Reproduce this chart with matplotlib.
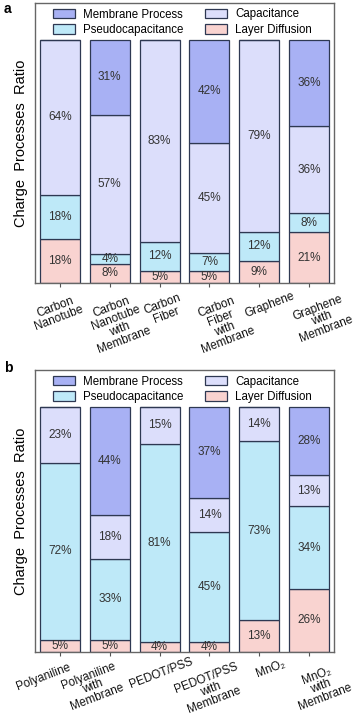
import matplotlib
matplotlib.use("Agg")
import matplotlib.pyplot as plt
import matplotlib.transforms as mtransforms
from matplotlib.patches import Patch
import numpy as np

plt.rcParams['font.family'] = ['Liberation Sans', 'DejaVu Sans']

series_names = ["Membrane Process", "Pseudocapacitance", "Capacitance", "Layer Diffusion"]
colors = {"Membrane Process": "#A8B1F4", "Capacitance": "#DCDEFB",
          "Pseudocapacitance": "#BEE9F8", "Layer Diffusion": "#F9D3D0"}

cats_a = ["Carbon\nNanotube", "Carbon\nNanotube\nwith\nMembrane", "Carbon\nFiber",
          "Carbon\nFiber\nwith\nMembrane", "Graphene", "Graphene\nwith\nMembrane"]
layer_a = [18, 8, 5, 5, 9, 21]
pseudo_a = [18, 4, 12, 7, 12, 8]
cap_a = [64, 57, 83, 45, 79, 36]
mem_a = [0, 31, 0, 42, 0, 36]

cats_b = ["Polyaniline", "Polyaniline\nwith\nMembrane", "PEDOT/PSS",
          "PEDOT/PSS\nwith\nMembrane", "MnO\u2082", "MnO\u2082\nwith\nMembrane"]
layer_b = [5, 5, 4, 4, 13, 26]
pseudo_b = [72, 33, 81, 45, 73, 34]
cap_b = [23, 18, 15, 14, 14, 13]
mem_b = [0, 44, 0, 37, 0, 28]

W, H = 358, 719
fig = plt.figure(figsize=(W / 100, H / 100), dpi=100)

edge = "#2E3852"


def panel(rect, cats, layer, pseudo, cap, mem, letter, letter_y, dxs, dys):
    ax = fig.add_axes(rect)
    x = np.arange(len(cats))
    stack = [("Layer Diffusion", layer), ("Pseudocapacitance", pseudo),
             ("Capacitance", cap), ("Membrane Process", mem)]
    total = np.sum([np.array(v, dtype=float) for _, v in stack], axis=0)
    bottom = np.zeros(len(cats))
    for name, vals in stack:
        vals = np.array(vals, dtype=float)
        share = vals / total * 100.0
        ax.bar(x, share, 0.8, bottom=bottom, color=colors[name], edgecolor=edge,
               linewidth=0.9)
        for xi, b, v, lab in zip(x, bottom, share, vals):
            if lab > 0:
                ax.text(xi, b + v / 2, f"{int(lab)}%", ha="center", va="center",
                        fontsize=8.5, color="#333333")
        bottom = bottom + share
    ax.set_xlim(-0.5, len(cats) - 0.5)
    ax.set_ylim(0, 115)
    ax.set_yticks([])
    ax.set_xticks(x)
    ax.set_xticklabels([])
    ax.tick_params(axis="x", direction="out", length=3, width=0.8, color="#555555")
    for s in ax.spines.values():
        s.set_color("#666666")
        s.set_linewidth(1.0)
    for xi, lab, dx, dy in zip(x, cats, dxs, dys):
        tr = ax.get_xaxis_transform() + mtransforms.ScaledTranslation(dx / 100, -dy / 100, fig.dpi_scale_trans)
        ax.text(xi, 0, lab, transform=tr, rotation=21,
                ha="center", va="top", multialignment="center", fontsize=8.5,
                color="#111111", linespacing=0.95)
    ax.set_ylabel("Charge  Processes  Ratio", fontsize=10.5, labelpad=5)
    handles = [Patch(facecolor=colors[n], edgecolor=edge, linewidth=0.9) for n in series_names]
    ax.legend(handles, series_names, loc="upper left", ncol=2, frameon=False,
              fontsize=8.3, handlelength=1.9, handleheight=0.9, handletextpad=0.7,
              columnspacing=1.9, labelspacing=0.3, borderaxespad=0, borderpad=0,
              bbox_to_anchor=((53 - 35) / 299, 1 - 5.5 / 280))
    fig.text(4 / W, 1 - letter_y / H, letter, fontsize=10, fontweight="bold",
             ha="left", va="top")
    return ax


panel([35 / W, 1 - 283 / H, 299 / W, 280 / H], cats_a, layer_a, pseudo_a, cap_a, mem_a,
      "a", 2, [-3, 8, 5, 13, 10, 13], [9, 9, 9, 9, 7, 9])
panel([35 / W, 1 - 652 / H, 299 / W, 282 / H], cats_b, layer_b, pseudo_b, cap_b, mem_b,
      "b", 361, [-16, -17, 2, 1, 11, 12], [9, 8, 4, 9, 6, 8])

fig.savefig("out.png", dpi=100)
